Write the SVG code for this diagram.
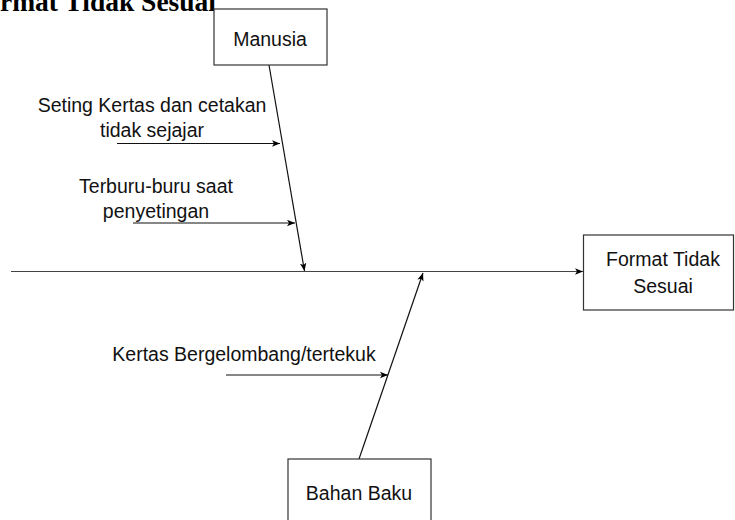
<svg xmlns="http://www.w3.org/2000/svg" width="735" height="520" viewBox="0 0 735 520">
<defs>
<marker id="ah" viewBox="0 0 10 10" refX="10" refY="5" markerWidth="8" markerHeight="8" markerUnits="userSpaceOnUse" orient="auto">
<path d="M0,1 L10,5 L0,9 L2.5,5 Z" fill="#000"/>
</marker>
<style>
.box{fill:#fff;stroke:#333;stroke-width:1.2}
.lbl{font-family:"Liberation Sans",Arial,sans-serif;font-size:19.5px;fill:#111;text-anchor:middle}
.ln{stroke:#111;stroke-width:1.2;fill:none}
.title{font-family:"Liberation Serif","Times New Roman",serif;font-size:27.5px;font-weight:bold;fill:#000;text-anchor:end}
</style>
</defs>
<rect width="735" height="520" fill="#fff"/>
<text class="title" x="216" y="11">Format Tidak Sesuai</text>
<g id="connectors">
<line class="ln" x1="11" y1="271.5" x2="583" y2="271.5" marker-end="url(#ah)" style="stroke:#444"/>
<line class="ln" x1="269" y1="65" x2="304.5" y2="271" marker-end="url(#ah)"/>
<line class="ln" x1="359" y1="459" x2="423" y2="273" marker-end="url(#ah)"/>
<line class="ln" x1="117" y1="143.5" x2="280" y2="143.5" marker-end="url(#ah)"/>
<line class="ln" x1="133" y1="223" x2="295" y2="223" marker-end="url(#ah)"/>
<line class="ln" x1="226" y1="375" x2="388" y2="375" marker-end="url(#ah)"/>
</g>
<g id="manusia">
<rect class="box" x="214" y="9" width="113" height="56"/>
<text class="lbl" x="270" y="46">Manusia</text>
</g>
<g id="format">
<rect class="box" x="583.5" y="235" width="150" height="75"/>
<text class="lbl" x="663" y="266">Format Tidak</text>
<text class="lbl" x="663" y="293">Sesuai</text>
</g>
<g id="bahan">
<rect class="box" x="288" y="459" width="143" height="70"/>
<text class="lbl" x="359" y="500">Bahan Baku</text>
</g>
<g id="cause1">
<text class="lbl" x="152" y="112">Seting Kertas dan cetakan</text>
<text class="lbl" x="152" y="137">tidak sejajar</text>
</g>
<g id="cause2">
<text class="lbl" x="156" y="193">Terburu-buru saat</text>
<text class="lbl" x="156" y="218">penyetingan</text>
</g>
<g id="cause3">
<text class="lbl" x="244" y="361">Kertas Bergelombang/tertekuk</text>
</g>
</svg>
